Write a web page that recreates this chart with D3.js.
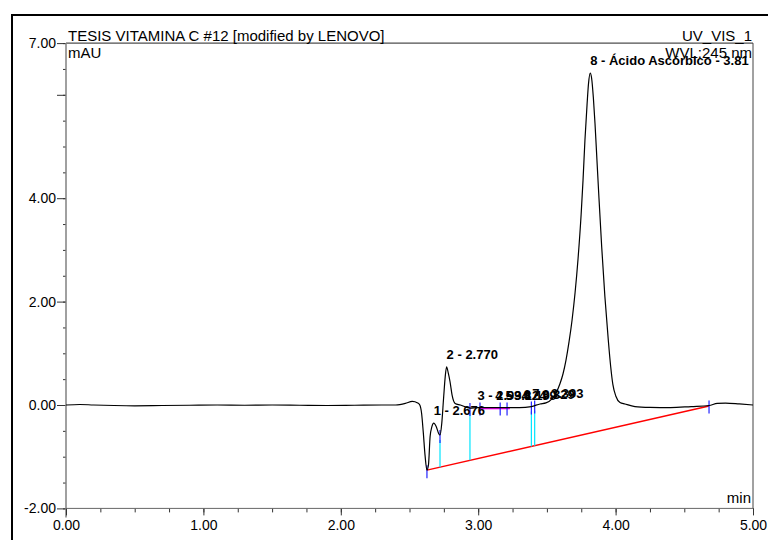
<!DOCTYPE html>
<html>
<head>
<meta charset="utf-8">
<script src="https://cdn.jsdelivr.net/npm/d3@7"></script>
<style>
  body { margin: 0; background: #fff; }
  svg { display: block; }
  text { font-family: "Liberation Sans", Arial, sans-serif; }
</style>
</head>
<body>
<script>
// ---------- DATA ----------
const title = "TESIS VITAMINA C #12 [modified by LENOVO]";
const channel = "UV_VIS_1";
const wavelength = "WVL:245 nm";
const yUnit = "mAU";
const xUnit = "min";

// chromatogram trace: retention time (min) and signal (mAU)
const traceTime = [
  0.00, 0.10, 0.20, 0.35, 0.50, 0.70, 0.90, 1.10, 1.30, 1.50, 1.70, 1.90, 2.10, 2.30,
  2.40, 2.47, 2.52, 2.56, 2.575, 2.588, 2.600, 2.613, 2.627, 2.638, 2.650, 2.663,
  2.676, 2.695, 2.712, 2.722, 2.735, 2.748, 2.760, 2.770, 2.782, 2.795, 2.810, 2.832,
  2.870, 2.940, 3.000, 3.100, 3.200, 3.300, 3.387, 3.450,
  3.493, 3.537, 3.566, 3.595, 3.617, 3.639, 3.661, 3.683, 3.705, 3.727, 3.749, 3.763,
  3.777, 3.792, 3.803, 3.815, 3.825, 3.838, 3.850, 3.864, 3.879, 3.899, 3.922, 3.947,
  3.964, 3.980, 4.002, 4.032, 4.068, 4.141, 4.250, 4.400, 4.550, 4.680, 4.740, 4.800,
  4.900, 5.000
];
const traceValue = [
  0.00, 0.01, 0.00, -0.01, -0.015, -0.01, -0.005, 0.00, -0.005, 0.00, -0.005, -0.01, -0.005, 0.00,
  0.00, 0.03, 0.07, 0.04, 0.00, -0.16, -0.52, -0.97, -1.26, -1.16, -0.61, -0.42,
  -0.35, -0.42, -0.55, -0.58, -0.35, 0.13, 0.55, 0.74, 0.62, 0.45, 0.19, 0.03,
  0.00, -0.06, -0.05, -0.05, -0.05, -0.05, -0.03, 0.02,
  0.04, 0.12, 0.23, 0.41, 0.60, 0.87, 1.22, 1.64, 2.17, 2.84, 3.68, 4.35,
  5.13, 5.80, 6.22, 6.42, 6.33, 5.95, 5.45, 4.75, 4.00, 3.05, 2.10, 1.25,
  0.75, 0.40, 0.17, 0.05, 0.02, -0.03, -0.045, -0.05, -0.03, -0.01, 0.03, 0.035,
  0.02, 0.00
];

// peak annotations
const peakLabels = ["1 - 2.676", "2 - 2.770", "3 - 2.994", "4 - 3.124", "5 - 3.199",
                    "6 - 3.329", "7 - 3.393", "8 - Ácido Ascórbico - 3.81"];
const peakTimes  = [2.676, 2.770, 2.994, 3.124, 3.199, 3.329, 3.393, 3.815];

// integration marks
const baselineStart = [2.627, -1.26];   // [min, mAU]
const baselineEnd   = [4.680, -0.02];
const dropTimes     = [2.722, 2.940, 3.387, 3.411];           // cyan drop lines
const delimTimes    = [2.627, 2.722, 2.940, 3.013, 3.160, 3.210, 3.387, 3.411, 4.680]; // blue delimiters
const subBaseline   = [3.013, 3.231];                         // magenta baseline span

// axes
const xMajor = [0, 1, 2, 3, 4, 5];
const yMajor = [-2, 0, 2, 4, 6, 7];
const yLabeled = [-2, 0, 2, 4, 7];

// ---------- DRAW ----------
const W = 768, H = 540;
const svg = d3.select("body").append("svg").attr("width", W).attr("height", H);

const x = d3.scaleLinear().domain([0, 5]).range([66, 753]);
const y = d3.scaleLinear().domain([-2, 7]).range([508.4, 43.1]);

const trace = traceTime.map((t, i) => [t, traceValue[i]]);
const valueAt = t => {
  const i = d3.bisector(d => d[0]).left(trace, t);
  if (i <= 0) return trace[0][1];
  if (i >= trace.length) return trace[trace.length - 1][1];
  const a = trace[i - 1], b = trace[i];
  return a[1] + (b[1] - a[1]) * (t - a[0]) / (b[0] - a[0]);
};
const baseAt = t => baselineStart[1] + (baselineEnd[1] - baselineStart[1]) *
  (t - baselineStart[0]) / (baselineEnd[0] - baselineStart[0]);

// outer frame
svg.append("rect").attr("x", 12).attr("y", 15).attr("width", 900).attr("height", 900)
  .attr("fill", "none").attr("stroke", "#000").attr("stroke-width", 2);

// plot border: top and right
svg.append("line").attr("x1", x(0)).attr("x2", x(5)).attr("y1", y(7)).attr("y2", y(7))
  .attr("stroke", "#222").attr("stroke-width", 1);
svg.append("line").attr("x1", x(5)).attr("x2", x(5)).attr("y1", y(7)).attr("y2", y(-2))
  .attr("stroke", "#444").attr("stroke-width", 1);

// Y axis
const yAxisMinor = d3.axisLeft(y).tickValues(d3.range(-2, 7.001, 0.5)).tickSize(3).tickFormat("");
const yAxisMajor = d3.axisLeft(y).tickValues(yMajor).tickSize(9).tickPadding(1)
  .tickFormat(v => yLabeled.includes(v) ? v.toFixed(2) : "");
const gy1 = svg.append("g").attr("transform", `translate(${x(0)},0)`).call(yAxisMinor);
const gy2 = svg.append("g").attr("transform", `translate(${x(0)},0)`).call(yAxisMajor);
[gy1, gy2].forEach(g => {
  g.select(".domain").remove();
  g.selectAll("line").attr("stroke", "#333");
  g.selectAll("text").attr("font-size", 14).attr("fill", "#000")
    .attr("font-family", "'Liberation Sans', Arial, sans-serif");
});
svg.append("line").attr("x1", x(0)).attr("x2", x(0)).attr("y1", y(7)).attr("y2", y(-2) + 9)
  .attr("stroke", "#808080").attr("stroke-width", 1.5);

// X axis
const xAxisMinor = d3.axisBottom(x).tickValues(d3.range(0, 5.001, 0.25)).tickSize(4).tickFormat("");
const xAxisMajor = d3.axisBottom(x).tickValues(xMajor).tickSize(7).tickPadding(5)
  .tickFormat(v => v.toFixed(2));
const gx1 = svg.append("g").attr("transform", `translate(0,${y(-2)})`).call(xAxisMinor);
const gx2 = svg.append("g").attr("transform", `translate(0,${y(-2)})`).call(xAxisMajor);
[gx1, gx2].forEach(g => {
  g.select(".domain").remove();
  g.selectAll("line").attr("stroke", "#333");
  g.selectAll("text").attr("font-size", 14).attr("fill", "#000")
    .attr("font-family", "'Liberation Sans', Arial, sans-serif");
});
svg.append("line").attr("x1", x(0)).attr("x2", x(5)).attr("y1", y(-2)).attr("y2", y(-2))
  .attr("stroke", "#666").attr("stroke-width", 1);

// header texts
svg.append("text").attr("x", x(0) + 2).attr("y", 40.5).attr("font-size", 15).text(title);
svg.append("text").attr("x", x(5) - 1).attr("y", 40.5).attr("font-size", 15)
  .attr("text-anchor", "end").text(channel);
svg.append("text").attr("x", x(5) - 1).attr("y", 57.5).attr("font-size", 15)
  .attr("text-anchor", "end").text(wavelength);
svg.append("text").attr("x", x(0) + 2).attr("y", 58).attr("font-size", 15).text(yUnit);
svg.append("text").attr("x", x(5) - 2).attr("y", 503).attr("font-size", 15)
  .attr("text-anchor", "end").text(xUnit);

// red baseline
svg.append("line")
  .attr("x1", x(baselineStart[0])).attr("y1", y(baselineStart[1]))
  .attr("x2", x(baselineEnd[0])).attr("y2", y(baselineEnd[1]))
  .attr("stroke", "#ff0000").attr("stroke-width", 1.5);

// cyan drop lines
svg.selectAll("line.drop").data(dropTimes).join("line").attr("class", "drop")
  .attr("x1", d => x(d)).attr("x2", d => x(d))
  .attr("y1", d => y(valueAt(d)) + 5).attr("y2", d => y(baseAt(d)))
  .attr("stroke", "#00e5ff").attr("stroke-width", 1.2);

// magenta sub-baseline
svg.append("line")
  .attr("x1", x(subBaseline[0])).attr("x2", x(subBaseline[1]))
  .attr("y1", y(valueAt(subBaseline[0])) + 1).attr("y2", y(valueAt(subBaseline[1])) + 1)
  .attr("stroke", "#ff00ff").attr("stroke-width", 1.5);

// blue delimiters
svg.selectAll("line.delim").data(delimTimes).join("line").attr("class", "delim")
  .attr("x1", d => x(d)).attr("x2", d => x(d))
  .attr("y1", d => y(valueAt(d)) - 5).attr("y2", d => y(valueAt(d)) + 8)
  .attr("stroke", "#2222ff").attr("stroke-width", 1.2);

// chromatogram trace
svg.append("path").datum(trace)
  .attr("fill", "none").attr("stroke", "#000").attr("stroke-width", 1.2)
  .attr("d", d3.line().x(d => x(d[0])).y(d => y(d[1])).curve(d3.curveMonotoneX));

// peak labels
svg.selectAll("text.peak").data(peakTimes).join("text").attr("class", "peak")
  .attr("x", d => x(d))
  .attr("y", d => y(valueAt(d)) - 8)
  .attr("font-size", 13).attr("font-weight", "bold")
  .text((d, i) => peakLabels[i]);
</script>
</body>
</html>
